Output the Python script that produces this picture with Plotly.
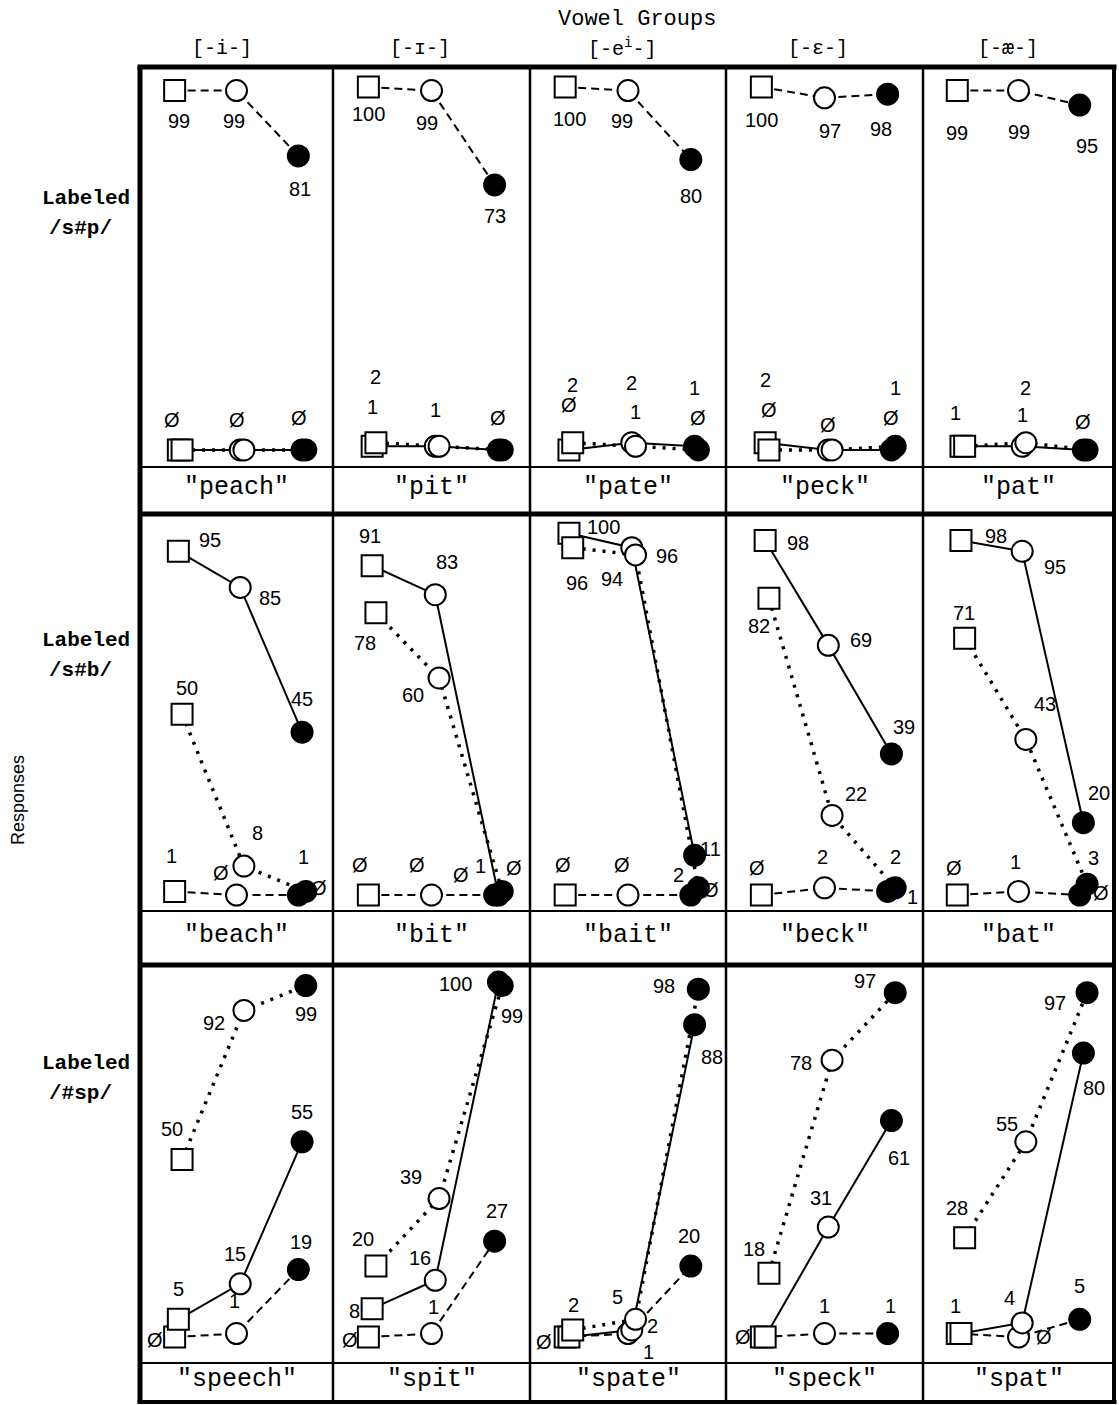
import plotly.graph_objects as go

# ---------------- data ----------------
vowel_groups = ["[-i-]", "[-ɪ-]", "[-e<sup>i</sup>-]", "[-ɛ-]", "[-æ-]"]
response_labels = ["/s#p/", "/s#b/", "/#sp/"]
words = [
    ["peach", "pit", "pate", "peck", "pat"],
    ["beach", "bit", "bait", "beck", "bat"],
    ["speech", "spit", "spate", "speck", "spat"],
]
stimuli = [0, 1, 2]  # square, open circle, filled circle

# series drawn with dashed line
dashed_vals = [
    [[99, 99, 81], [100, 99, 73], [100, 99, 80], [100, 97, 98], [99, 99, 95]],
    [[1, 0, 0], [0, 0, 0], [0, 0, 0], [0, 2, 1], [0, 1, 0]],
    [[0, 1, 19], [0, 1, 27], [0, 1, 20], [0, 1, 1], [1, 0, 5]],
]
# series drawn with solid line
solid_vals = [
    [[0, 0, 0], [1, 1, 0], [0, 2, 1], [2, 0, 0], [1, 1, 0]],
    [[95, 85, 45], [91, 83, 0], [100, 96, 11], [98, 69, 39], [98, 95, 20]],
    [[5, 15, 55], [8, 16, 100], [0, 2, 88], [0, 31, 61], [1, 4, 80]],
]
# series drawn with dotted line
dotted_vals = [
    [[0, 0, 0], [2, 1, 0], [2, 1, 0], [0, 0, 1], [1, 2, 0]],
    [[50, 8, 1], [78, 60, 1], [96, 94, 2], [82, 22, 2], [71, 43, 3]],
    [[50, 92, 99], [20, 39, 99], [2, 5, 98], [18, 78, 97], [28, 55, 97]],
]

# ---------------- styling / layout ----------------
W, H = 1119, 1405
col_edges = [140, 333, 530, 726, 923, 1114]
row_plot = [(67, 467), (514, 911), (965, 1363)]
row_cell_bottom = [514, 965, 1402]
yranges = [(-4.7, 105.5), (-4.4, 105.3), (-7.3, 104.8)]
xrange_ = (-0.62, 2.5)

series_style = {
    "D": dict(dash="8px,5px", width=2, dodge=-0.06),
    "S": dict(dash="solid", width=2, dodge=0.0),
    "T": dict(dash="3px,7px", width=3.5, dodge=0.06),
}
series_vals = {"D": dashed_vals, "S": solid_vals, "T": dotted_vals}

N = None
# label offsets in px (dx right, dy down), None = label not shown
label_offsets = {
    (0, 0): {"D": [(4, 30), (-3, 30), (2, 33)], "S": [(-6, -30), (-3, -30), (-3, -32)], "T": [N, N, N]},
    (0, 1): {"D": [(0, 27), (-5, 32), (0, 31)], "S": [(0, -39), (0, -36), (0, -32)], "T": [(0, -66), N, N]},
    (0, 2): {"D": [(4, 32), (-6, 30), (0, 36)], "S": [(0, -45), (0, -60), (0, -58)], "T": [(0, -58), (0, -34), (0, -32)]},
    (0, 3): {"D": [(0, 33), (5, 33), (-7, 35)], "S": [(0, -63), (0, -25), (0, -32)], "T": [(0, -40), N, (0, -58)]},
    (0, 4): {"D": [(0, 42), (0, 41), (7, 41)], "S": [(-5, -33), (0, -31), (0, -28)], "T": [N, (0, -55), N]},
    (1, 0): {"S": [(32, -11), (30, 11), (0, -33)], "T": [(5, -26), (14, -33), (-2, -34)], "D": [(-3, -35), (-16, -22), (21, -7)]},
    (1, 1): {"S": [(-2, -30), (12, -33), (16, -27)], "T": [(-11, 30), (-26, 17), (-22, -25)], "D": [(-8, -30), (-15, -30), (-34, -20)]},
    (1, 2): {"S": [(35, -6), (35, 8), (16, -6)], "T": [(4, 35), (-24, 24), (-20, -13)], "D": [(-2, -30), (-6, -30), (20, -5)]},
    (1, 3): {"S": [(33, 3), (33, -5), (13, -27)], "T": [(-10, 28), (24, -21), (0, -31)], "D": [(-4, -27), (-2, -31), (25, 6)]},
    (1, 4): {"S": [(35, -4), (33, 16), (16, -30)], "T": [(-1, -25), (19, -35), (6, -26)], "D": [(-3, -27), (-3, -29), (21, -2)]},
    (2, 0): {"T": [(-10, -31), (-30, 13), (0, 28)], "S": [(0, -30), (-5, -30), (0, -30)], "D": [(-20, 3), (-2, -33), (3, -28)]},
    (2, 1): {"T": [(-13, -27), (-28, -22), (10, 30)], "S": [(-18, 2), (-15, -22), (-43, 2)], "D": [(-18, 3), (2, -27), (2, -30)]},
    (2, 2): {"T": [(1, -25), (-18, -22), (-34, -3)], "S": [(-25, 5), (21, -4), (17, 32)], "D": [N, (20, 18), (-2, -30)]},
    (2, 3): {"T": [(-15, -24), (-31, 3), (-30, -12)], "S": [(-22, 0), (-7, -29), (8, 37)], "D": [N, (0, -28), (3, -28)]},
    (2, 4): {"T": [(-8, -30), (-19, -18), (-32, 10)], "S": [(-5, -28), (-13, -25), (11, 35)], "D": [N, (25, 0), (0, -33)]},
}

NUM_FONT = dict(family="Liberation Sans, Arial, sans-serif", size=20, color="black")
WORD_FONT = dict(family="Liberation Mono, Courier New, monospace", size=25, color="black")


def px_x(x):
    return x / W


def px_y(y):
    return 1 - y / H


fig = go.Figure()
layout = dict(
    width=W, height=H, margin=dict(l=0, r=0, t=0, b=0),
    paper_bgcolor="white", plot_bgcolor="rgba(0,0,0,0)", showlegend=False,
)
annotations = []
shapes = []

markers_symbols = ["square", "circle", "circle"]
marker_fill = ["white", "white", "black"]

line_traces = []
marker_traces = []
for r in range(3):
    for c in range(5):
        idx = r * 5 + c + 1
        xa = "xaxis" if idx == 1 else f"xaxis{idx}"
        ya = "yaxis" if idx == 1 else f"yaxis{idx}"
        xr = "x" if idx == 1 else f"x{idx}"
        yr = "y" if idx == 1 else f"y{idx}"
        top, bot = row_plot[r]
        layout[xa] = dict(domain=[px_x(col_edges[c]), px_x(col_edges[c + 1])], range=list(xrange_),
                          visible=False, fixedrange=True, anchor=yr)
        layout[ya] = dict(domain=[px_y(bot), px_y(top)], range=list(yranges[r]),
                          visible=False, fixedrange=True, anchor=xr)
        for key in ["D", "S", "T"]:
            st = series_style[key]
            vals = series_vals[key][r][c]
            xs = [s + st["dodge"] for s in stimuli]
            line_traces.append(go.Scatter(
                x=xs, y=vals, xaxis=xr, yaxis=yr, mode="lines",
                line=dict(color="black", width=st["width"], dash=st["dash"]),
                hoverinfo="skip", cliponaxis=False))
            marker_traces.append(go.Scatter(
                x=xs, y=vals, xaxis=xr, yaxis=yr, mode="markers",
                marker=dict(symbol=markers_symbols, size=21, color=marker_fill,
                            line=dict(color="black", width=2)),
                hoverinfo="skip", cliponaxis=False))
            offs = label_offsets[(r, c)][key]
            for i, v in enumerate(vals):
                if offs[i] is None:
                    continue
                dx, dy = offs[i]
                annotations.append(dict(
                    x=xs[i], y=v, xref=xr, yref=yr, text=("Ø" if v == 0 else str(v)),
                    showarrow=False, xshift=dx, yshift=-dy, font=NUM_FONT,
                    xanchor="center", yanchor="middle"))
        # word cell label
        annotations.append(dict(
            x=px_x((col_edges[c] + col_edges[c + 1]) / 2),
            y=px_y((row_plot[r][1] + row_cell_bottom[r]) / 2 - 3),
            xref="paper", yref="paper", text='"' + words[r][c] + '"',
            showarrow=False, font=WORD_FONT, xanchor="center", yanchor="middle"))

for t in line_traces + marker_traces:
    fig.add_trace(t)


def hline(y, x0, x1, w):
    shapes.append(dict(type="line", xref="paper", yref="paper", x0=px_x(x0), x1=px_x(x1),
                       y0=px_y(y), y1=px_y(y), line=dict(color="black", width=w)))


def vline(x, y0, y1, w):
    shapes.append(dict(type="line", xref="paper", yref="paper", x0=px_x(x), x1=px_x(x),
                       y0=px_y(y0), y1=px_y(y1), line=dict(color="black", width=w)))


L, R = col_edges[0], col_edges[-1]
TOP, BOT = row_plot[0][0], row_cell_bottom[-1]
# thin lines above word cells
for r in range(3):
    hline(row_plot[r][1], L, R, 2)
# column dividers
for x in col_edges[1:-1]:
    vline(x, TOP, BOT, 2.5)
# thick row separators
hline(row_cell_bottom[0], L, R, 5)
hline(row_cell_bottom[1], L, R, 5)
# outer frame
hline(TOP, L - 2.5, R + 2.5, 5)
hline(BOT, L - 2.5, R + 2.5, 4)
vline(L, TOP, BOT, 5)
vline(R, TOP, BOT, 4)

# titles
HEAD_FONT = dict(family="Liberation Mono, Courier New, monospace", size=20, color="black")
annotations.append(dict(x=px_x(637), y=px_y(20), xref="paper", yref="paper", text="Vowel Groups",
                        showarrow=False, font=dict(HEAD_FONT, size=22), xanchor="center", yanchor="middle"))
head_x = [222, 420, 622, 818, 1008]
for c in range(5):
    annotations.append(dict(x=px_x(head_x[c]), y=px_y(48), xref="paper", yref="paper",
                            text=vowel_groups[c], showarrow=False, font=HEAD_FONT,
                            xanchor="center", yanchor="middle"))

ROW_FONT = dict(family="Liberation Mono, Courier New, monospace", size=21, color="black")
row_label_y = [198, 640, 1063]
for r in range(3):
    annotations.append(dict(x=px_x(40), y=px_y(row_label_y[r]), xref="paper", yref="paper",
                            text="<b>Labeled</b>", showarrow=False, font=ROW_FONT,
                            xanchor="left", yanchor="middle"))
    annotations.append(dict(x=px_x(47), y=px_y(row_label_y[r] + 30), xref="paper", yref="paper",
                            text="<b>" + response_labels[r] + "</b>", showarrow=False, font=ROW_FONT,
                            xanchor="left", yanchor="middle"))

annotations.append(dict(x=px_x(18), y=px_y(800), xref="paper", yref="paper", text="Responses",
                        textangle=-90, showarrow=False,
                        font=dict(family="Liberation Sans, Arial, sans-serif", size=18, color="black"),
                        xanchor="center", yanchor="middle"))

layout["annotations"] = annotations
layout["shapes"] = shapes
fig.update_layout(**layout)

fig.write_html("out.html", config={"displayModeBar": False},
               post_script="document.body.style.margin='0';")
